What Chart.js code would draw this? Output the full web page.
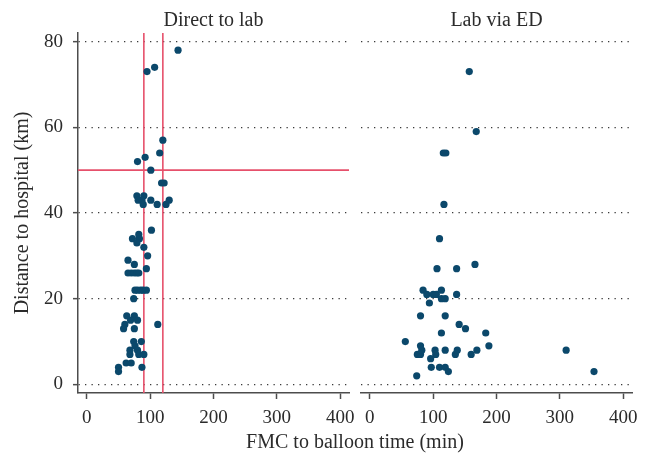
<!DOCTYPE html>
<html>
<head>
<meta charset="utf-8">
<script src="https://cdn.jsdelivr.net/npm/chart.js@4.4.1/dist/chart.umd.min.js"></script>
<style>
  html, body { margin: 0; padding: 0; background: #fff; }
  #wrap { position: relative; width: 651px; height: 455px; }
  #wrap canvas { position: absolute; left: 0; top: 0; }
  #xtitle {
    position: absolute; left: 78px; width: 554px; top: 429px;
    text-align: center; font: 20px "Liberation Serif", serif; color: #2b2b2b; line-height: 24px;
  }
</style>
</head>
<body>
<div id="wrap">
  <canvas id="chart-direct" width="651" height="455"></canvas>
  <canvas id="chart-ed" width="651" height="455"></canvas>
  <div id="xtitle">FMC to balloon time (min)</div>
</div>
<script>
// ============================================================
// Data: FMC-to-balloon time (min) vs distance to hospital (km)
// ============================================================
const directFmc  = [144,107,95,120,115,92,80,101,118,122,79,90,81,87,89,101,111,125,130,102,82,83,72,79,90,96,65,75,94,65,70,75,79,82,76,80,85,89,94,74,63,75,69,80,60,58,75,112,74,86,76,68,80,68,82,90,62,70,87,50,50];
const directDist = [78,74,73,57,54,53,52,50,47,47,44,44,43,43,42,43,42,42,43,36,35,34,34,33,32,30,29,28,27,26,26,26,26,26,22,22,22,22,22,20,16,16,15,15,14,13,13,14,10,10,9,8,8,7,7,7,5,5,4,4,3];

const edFmc  = [157,168,116,120,117,110,106,137,166,84,90,94,100,105,113,113,119,137,80,119,141,151,113,183,56,80,188,310,75,80,82,103,104,119,135,138,160,169,96,97,110,119,124,74,354];
const edDist = [73,59,54,54,42,34,27,27,28,22,21,19,21,21,22,20,20,21,16,16,14,13,12,12,10,9,9,8,7,7,8,8,7,8,7,8,7,8,6,4,4,4,3,2,3];

// reference lines (direct-to-lab panel only)
const refFmc = [90, 120];
const refDist = [50];

const xTicks = [0, 100, 200, 300, 400];
const yTicks = [0, 20, 40, 60, 80];
const xRange = [-14, 414];
const yRange = [-2, 82];

// ============================================================
// Shared styling
// ============================================================
const serif = "'Liberation Serif', 'Times New Roman', serif";
const textColor = "#2b2b2b";
const axisColor = "#4d4d4d";
const dotColor = "#0b486b";
const refColor = "#e6506b";

function toPoints(xs, ys) {
  return xs.map((x, i) => ({ x: x, y: ys[i] }));
}

function xScale() {
  return {
    type: "linear",
    min: xRange[0],
    max: xRange[1],
    afterBuildTicks: s => { s.ticks = xTicks.map(v => ({ value: v })); },
    afterFit: s => { s.height = 62; },
    ticks: { font: { family: serif, size: 19 }, color: textColor, padding: 8, maxRotation: 0 },
    grid: { drawOnChartArea: false, drawTicks: true, tickLength: 6, tickColor: axisColor, tickWidth: 1.5 },
    border: { display: true, color: axisColor, width: 1.5 }
  };
}

function yScale(showAxis) {
  return {
    type: "linear",
    min: yRange[0],
    max: yRange[1],
    afterBuildTicks: s => { s.ticks = yTicks.map(v => ({ value: v })); },
    afterFit: s => { s.width = showAxis ? 78 : 0; },
    ticks: { display: showAxis, font: { family: serif, size: 19 }, color: textColor, padding: 10 },
    grid: {
      color: "#3a3a3a", lineWidth: 1.3,
      drawTicks: showAxis, tickLength: 5, tickColor: axisColor, tickWidth: 1.5, tickBorderDash: []
    },
    border: { display: showAxis, color: axisColor, width: 1.5, dash: [1.3, 5.2] },
    title: {
      display: showAxis, text: "Distance to hospital (km)",
      font: { family: serif, size: 20 }, color: textColor, padding: { top: 11, bottom: 0 }
    }
  };
}

function panelOptions(title, padding, showAxis) {
  return {
    responsive: false,
    animation: false,
    devicePixelRatio: 1,
    layout: { padding: padding },
    plugins: {
      legend: { display: false },
      tooltip: { enabled: false },
      title: {
        display: true, text: title, fullSize: false,
        font: { family: serif, size: 20, weight: "normal", lineHeight: 1.1 }, color: textColor,
        padding: { top: 10, bottom: 1 }
      }
    },
    scales: { x: xScale(), y: yScale(showAxis) }
  };
}

function dots(xs, ys) {
  return {
    type: "scatter",
    data: toPoints(xs, ys),
    backgroundColor: dotColor,
    borderWidth: 0,
    pointRadius: 3.6,
    order: 0
  };
}

function refLine(pts) {
  return {
    type: "line",
    data: pts,
    borderColor: refColor,
    borderWidth: 1.6,
    pointRadius: 0,
    fill: false,
    order: 1
  };
}

// ============================================================
// Panel 1: Direct to lab
// ============================================================
new Chart(document.getElementById("chart-direct"), {
  type: "scatter",
  data: {
    datasets: [
      dots(directFmc, directDist),
      ...refFmc.map(v => refLine([{ x: v, y: yRange[0] }, { x: v, y: yRange[1] }])),
      ...refDist.map(v => refLine([{ x: xRange[0], y: v }, { x: xRange[1], y: v }]))
    ]
  },
  options: panelOptions("Direct to lab", { top: 0, left: 0, right: 302, bottom: 0 }, true)
});

// ============================================================
// Panel 2: Lab via ED
// ============================================================
new Chart(document.getElementById("chart-ed"), {
  type: "scatter",
  data: { datasets: [dots(edFmc, edDist)] },
  options: panelOptions("Lab via ED", { top: 0, left: 361, right: 19, bottom: 0 }, false)
});
</script>
</body>
</html>
